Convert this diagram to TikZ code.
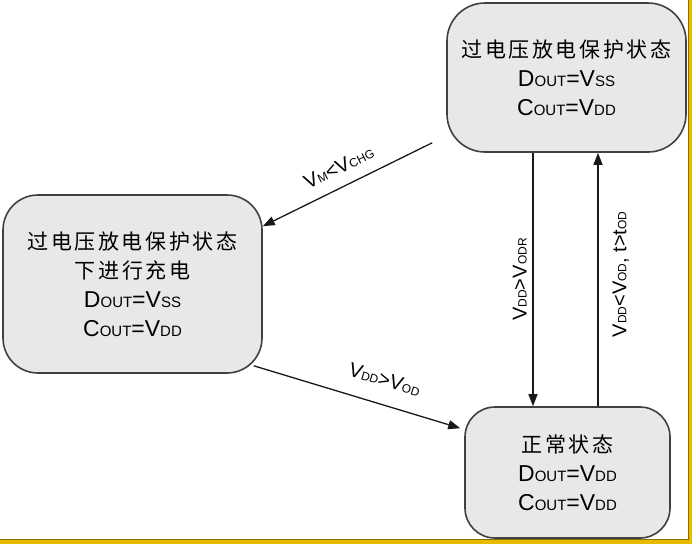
\documentclass[tikz,border=0pt]{standalone}
\usepackage{fontspec}
\setmainfont{Liberation Sans}
\newfontfamily\cjk{Noto Sans CJK SC}[LetterSpace=12]
\usetikzlibrary{arrows.meta}
\definecolor{framegold}{RGB}{228,188,0}
\definecolor{framedark}{RGB}{140,110,0}
\newcommand{\lo}[2][15]{{\fontsize{#1}{#1}\selectfont #2}}
\newcommand{\zh}[1]{{\cjk\fontsize{21}{29}\selectfont #1}}

\begin{document}
\begin{tikzpicture}[x=1pt, y=-1pt,
    state/.style={draw=black!75, fill=black!9, line width=1.6pt, align=center, inner sep=0pt, font=\fontsize{23}{29}\selectfont},
    trans/.style={draw=black!90, line width=1.3pt, -{Triangle[length=12pt, width=9pt]}},
    cond/.style={font=\fontsize{20}{24}\selectfont, inner sep=0pt}
]
\useasboundingbox (0,0) rectangle (692,544);
% frame of the screenshot
\fill[framegold] (688,0) rectangle (692,544);
\fill[framegold] (0,539) rectangle (692,544);
\draw[framedark, line width=1pt] (0,539.5) -- (688.5,539.5) -- (688.5,0);

% states
\node[state, rounded corners=38pt, minimum width=239pt, minimum height=149pt] (ovp) at (566.5,77.5)
    {\zh{过电压放电保护状态}\\D\lo{OUT}=V\lo{SS}\\C\lo{OUT}=V\lo{DD}};
\node[state, rounded corners=35pt, minimum width=259pt, minimum height=178pt] (chg) at (132.5,284)
    {\zh{过电压放电保护状态}\\\zh{下进行充电}\\D\lo{OUT}=V\lo{SS}\\C\lo{OUT}=V\lo{DD}};
\node[state, rounded corners=30pt, minimum width=205pt, minimum height=131pt] (nrm) at (567.5,472.5)
    {\zh{正常状态}\\D\lo{OUT}=V\lo{DD}\\C\lo{OUT}=V\lo{DD}};

% transitions
\draw[trans] ([shift={(-14,-10)}]ovp.south west) --
    node[cond, midway, sloped, above=12pt] {V\lo[12]{M}<V\lo[12]{CHG}}
    ([shift={(0,32)}]chg.north east);
\draw[trans] ([shift={(-9,-8)}]chg.south east) --
    node[cond, pos=0.6, sloped, above=17pt] {V\lo[12]{DD}>V\lo[12]{OD}}
    ([shift={(-4,22)}]nrm.north west);
\draw[trans] ([xshift=-33.5pt]ovp.south) --
    node[cond, midway, rotate=90, anchor=south, inner sep=5.5pt] {V\lo[12]{DD}>V\lo[12]{ODR}}
    ([xshift=-34.5pt]nrm.north);
\draw[trans] ([xshift=30.5pt]nrm.north) --
    node[cond, pos=0.52, rotate=90, anchor=north, inner sep=14pt] {V\lo[12]{DD}<V\lo[12]{OD}, t>t\lo[12]{OD}}
    ([xshift=31.5pt]ovp.south);
\end{tikzpicture}
\end{document}
